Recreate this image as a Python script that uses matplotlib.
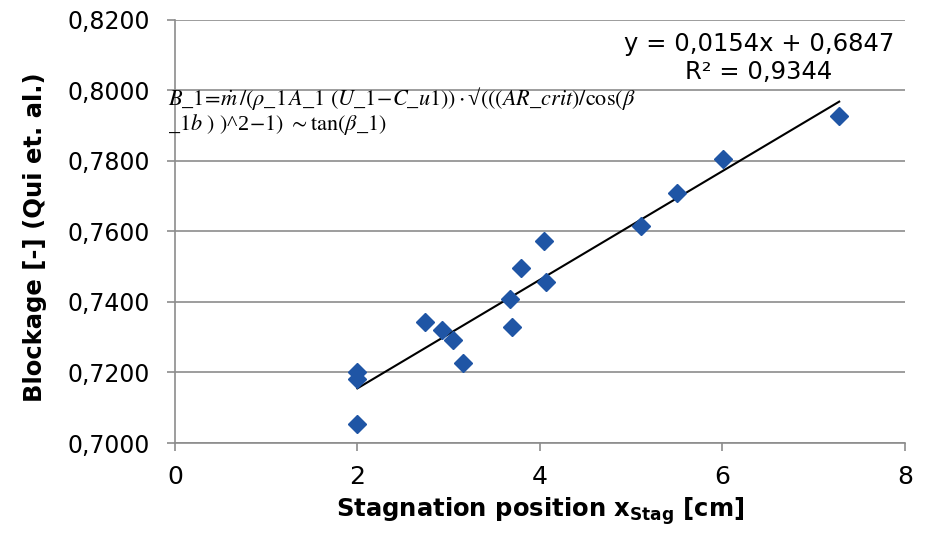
import numpy as np
import matplotlib
matplotlib.use("Agg")
import matplotlib.pyplot as plt
from matplotlib.ticker import FuncFormatter, MultipleLocator

# stagnation position (cm) vs. blockage (Qui et al.)
x_stag = [2.00, 2.00, 2.00, 2.74, 2.93, 3.05, 3.16, 3.67, 3.69, 3.79,
          4.05, 4.07, 5.11, 5.50, 6.01, 7.28]
blockage = [0.7054, 0.7201, 0.7182, 0.7343, 0.7321, 0.7292, 0.7227, 0.7409,
            0.7329, 0.7496, 0.7573, 0.7457, 0.7616, 0.7709, 0.7806, 0.7928]

slope = 0.0154
intercept = 0.6847
r2 = 0.9344

x_ticks = [0, 2, 4, 6, 8]

fig = plt.figure(figsize=(9.3, 5.37), dpi=100)
ax = fig.add_axes([0.188, 0.175, 0.785, 0.788])

ax.plot(x_stag, blockage, "D", color="#1F55A5", ms=9.5, zorder=3)

xl = np.array([min(x_stag), max(x_stag)])
ax.plot(xl, slope * xl + intercept, color="black", lw=1.5, zorder=2)

ax.set_xlim(0, 8)
ax.set_ylim(0.70, 0.82)
ax.set_xticks(x_ticks)
ax.yaxis.set_major_locator(MultipleLocator(0.02))
ax.yaxis.set_major_formatter(FuncFormatter(lambda v, p: f"{v:.4f}".replace(".", ",")))

ax.grid(axis="y", color="#8C8C8C", lw=1.2)
ax.set_axisbelow(True)
for s in ["top", "right"]:
    ax.spines[s].set_visible(False)
for s in ["left", "bottom"]:
    ax.spines[s].set_color("#8C8C8C")
    ax.spines[s].set_linewidth(1.2)
ax.tick_params(axis="both", colors="#8C8C8C", labelcolor="black", length=6,
               width=1.2)
ax.tick_params(axis="y", labelsize=17, pad=12)
ax.tick_params(axis="x", labelsize=18, pad=10)

ax.set_ylabel("Blockage [-] (Qui et. al.)", fontsize=17.5, fontweight="bold")
ax.yaxis.set_label_coords(-0.175, 0.487)
ax.set_xlabel(r"Stagnation position x$_{\mathbf{Stag}}$ [cm]", fontsize=17.5,
              fontweight="bold", labelpad=4)

eq = f"y = {slope:.4f}x + {intercept:.4f}\nR² = {r2:.4f}".replace(".", ",")
ax.text(6.4, 0.8165, eq, fontsize=17.5, ha="center", va="top",
        multialignment="center", linespacing=1.2)

# formula note (mixed mathtext / plain serif text), wrapped as in the source
f1 = ("$B\\_1\\!=\\!\\dot{m}\\,/(\\rho\\_1\\,A\\_1\\ (U\\_1\\!-\\!C\\_u1))\\cdot$\u221A"
      "$(((AR\\_crit)/\\cos(\\beta$")
f2 = "$\\_1b\\ )\\ )$^2$\\!-\\!1)\\ \\sim\\tan(\\beta\\_1)$"
ax.text(-0.01, 0.845, f1 + "\n" + f2, transform=ax.transAxes, fontsize=16,
        family="Liberation Serif", math_fontfamily="stix",
        va="top", ha="left", linespacing=0.95)

fig.savefig("out.png", dpi=100, facecolor="white")
